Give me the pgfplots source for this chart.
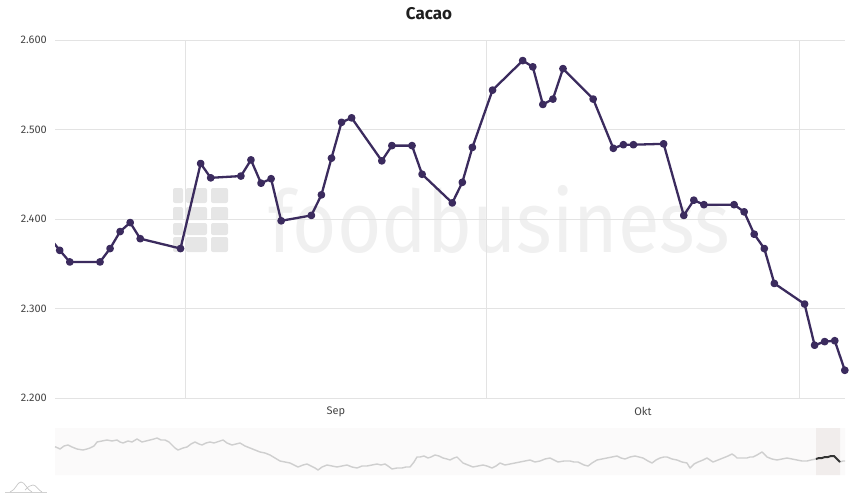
\documentclass[border=0pt]{standalone}
\usepackage{fontspec}
\setmainfont{Fira Sans}
\usepackage{pgfplots}
\usepackage{pgfplotstable}
\pgfplotsset{compat=1.18}

\definecolor{cline}{HTML}{3B2B5E}
\definecolor{gridc}{HTML}{E3E3E3}
\definecolor{labc}{HTML}{444444}
\definecolor{wm}{HTML}{F0F0F0}
\definecolor{wmlogo}{HTML}{E6E6E6}
\definecolor{navbg}{HTML}{FBFAFA}
\definecolor{navsel}{HTML}{F1EDEC}
\definecolor{navline}{HTML}{CFCFCF}

% price per trading day (x = day, 0.44 = 1 Sep)
\pgfplotstableread{
x v
-13 2379
-12 2365
-11 2352
-8 2352
-7 2367
-6 2386
-5 2396
-4 2378
0 2367
2 2462
3 2446
6 2448
7 2466
8 2440
9 2445
10 2398
13 2404
14 2427
15 2468
16 2508
17 2513
20 2465
21 2482
23 2482
24 2450
27 2418
28 2441
29 2480
31 2544
34 2577
35 2570
36 2528
37 2534
38 2568
41 2534
43 2479
44 2483
45 2483
48 2484
50 2404
51 2421
52 2416
55 2416
56 2408
57 2383
58 2367
59 2328
62 2305
63 2259
64 2263
65 2264
66 2231
}\cacao

% navigator (whole history, screen units, measured upwards from page bottom)
\pgfplotstableread{
x y
55 49.3
58 48
60 47
64 50
68 51
72 49
77 47
83 46
87 47
90 48
94 50
97 54
102 55
107 56
112 55
117 56
120 54
123 53
128 55
132 54
137 57
142 54
146 55
150 56
154 57
157 58
161 56
165 56
169 54
172 51
175 48
178 46
183 48
187 49
191 52
195 54
199 52
202 51
206 53
210 54
214 53
217 54
220 55
223 56
227 53
232 51
236 52
240 53
245 50
250 48
255 46
260 44
265 43
270 41
275 38
280 35
285 34
290 33
294 31
298 29
303 31
307 32
311 30
315 28
318 26
322 29
327 31
332 30
337 29
342 30
347 31
352 29
357 28
362 30
367 30
372 31
377 32
381 31
385 32
388 30
392 27
397 28
402 28
406 29
410 29
414 34
417 39
420 39
424 40
428 38
431 39
435 41
439 40
443 38
447 37
450 36
454 38
457 39
460 36
463 33
468 31
473 29
478 30
483 31
487 30
492 28
496 30
500 33
505 31
510 32
515 33
520 34
525 35
530 36
535 34
540 35
545 37
550 38
554 36
558 34
564 35
570 35
574 34
578 34
584 31
588 30
592 33
597 36
602 37
607 38
612 39
617 40
621 38
625 37
630 39
635 40
639 39
643 38
648 35
652 33
656 36
660 38
664 39
667 39
672 37
677 36
682 34
687 33
690 28
694 32
698 34
703 36
707 38
710 36
713 34
718 36
723 38
728 40
732 42
735 40
737 38
742 38
747 38
750 39
753 39
757 41
762 44
765 41
767 39
772 37
777 36
782 37
787 38
792 37
797 36
802 35
807 35
811 36
816 37
}\navall

\pgfplotstableread{
x y
816 37
819 38
822 38
825 39
828 39
831 40
834 40
837 37
840 34
}\navsel

\pgfplotstableread{
x y
840 34
843 35
845 35
}\navend

\begin{document}
\begin{tikzpicture}[x=1pt,y=1pt]
\path (0,0) rectangle (858,496);

% watermark
\foreach \cx/\cw in {173/10,186/21,211/17}{
  \foreach \ry/\rh in {293/15,276/13,261/12,244/15}{
    \fill[wmlogo, rounded corners=2pt] (\cx,\ry) rectangle ++(\cw,\rh);
  }
}
\node[wm, font=\fontsize{86}{86}\selectfont, anchor=base west, inner sep=0pt, xscale=0.885]
  at (268,244) {foodbusiness};

% title
\node[font=\fontsize{17}{20}\selectfont\bfseries, color=black!88] at (429,482) {Cacao};

\begin{axis}[
    at={(55pt,98pt)}, anchor=south west,
    width=790pt, height=358pt, scale only axis,
    xmin=-12.47, xmax=66.02,
    ymin=2200, ymax=2600,
    axis line style={draw=none},
    major tick length=0pt,
    ytick={2200,2300,2400,2500,2600},
    yticklabels={2.200,2.300,2.400,2.500,2.600},
    yticklabel style={font=\fontsize{11}{13}\selectfont, color=labc,
                      anchor=east, inner sep=0pt, xshift=-8pt},
    xtick={0.44,30.44,61.44},
    xticklabels={},
    extra x ticks={15.44,45.94},
    extra x tick labels={Sep,Okt},
    extra x tick style={grid=none,
        xticklabel style={font=\fontsize{11}{13}\selectfont, color=labc,
                          anchor=north, inner sep=0pt, yshift=-9pt}},
    xmajorgrids, ymajorgrids,
    grid style={gridc, line width=0.8pt},
    clip=true,
]
\addplot[cline, line width=2.3pt, line join=round,
    mark=*, mark size=2.7pt, mark options={fill=cline, draw=none}]
    table[x=x, y=v] {\cacao};
\end{axis}

\begin{axis}[
    at={(55pt,21pt)}, anchor=south west,
    width=790pt, height=47pt, scale only axis,
    xmin=55, xmax=845, ymin=21, ymax=68,
    hide axis, clip=false,
]
\addplot[fill=navbg, draw=none] coordinates {(55,21)(845,21)(845,68)(55,68)(55,21)};
\addplot[fill=navsel, draw=none] coordinates {(816,21)(840,21)(840,68)(816,68)(816,21)};
\addplot[navline, line width=1.4pt, line join=round] table {\navall};
\addplot[navline, line width=1.4pt, line join=round] table {\navend};
\addplot[black!80, line width=2pt, line join=round] table {\navsel};
\end{axis}

% small icon bottom left
\draw[black!18, line width=0.7pt] (5,4) -- (47,4);
\draw[black!22, line width=0.7pt] (10,4) .. controls (16,6) and (17,14) .. (21,14)
   .. controls (25,14) and (27,6) .. (32,4);
\draw[black!22, line width=0.7pt] (25,6) .. controls (28,9) and (30,11) .. (33,11)
   .. controls (36,11) and (38,6) .. (42,4);
\end{tikzpicture}
\end{document}
